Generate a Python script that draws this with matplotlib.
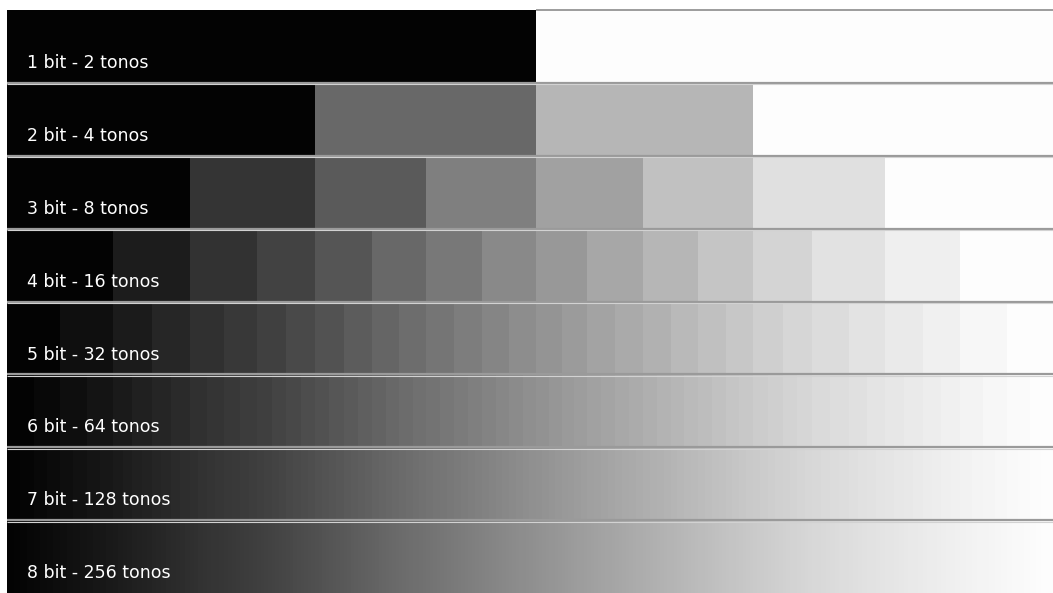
import numpy as np
import matplotlib
matplotlib.use('Agg')
import matplotlib.pyplot as plt

# bit depth per row and its label
bits = [1, 2, 3, 4, 5, 6, 7, 8]
labels = ['1 bit - 2 tonos', '2 bit - 4 tonos', '3 bit - 8 tonos', '4 bit - 16 tonos',
          '5 bit - 32 tonos', '6 bit - 64 tonos', '7 bit - 128 tonos', '8 bit - 256 tonos']

# x position (px) of the 16 tone steps, read from the 4 bit row
step_x = [7, 113, 190, 257, 315, 372, 426, 482, 536, 587, 643, 698, 753, 812, 885, 960, 1053]
# gray value of those 16 tones
step_gray = [3, 28, 50, 66, 85, 104, 120, 137, 152, 167, 182, 197, 212, 226, 239, 253]

W, H = 1053, 593
top = 10
row_h = (H - top) / len(bits)

fig = plt.figure(figsize=(W / 100, H / 100), dpi=100)
ax = fig.add_axes([0, 0, 1, 1])
ax.set_xlim(0, W)
ax.set_ylim(H, 0)
ax.axis('off')

frac16 = np.linspace(0, 1, 17)
tone16 = np.linspace(0, 1, 16)

for i, b in enumerate(bits):
    n = 2 ** b
    # band edges of this row, placed on the same tone scale as the 4 bit row
    edges = np.interp(np.arange(n + 1) / n, frac16, step_x)
    gray = np.interp(np.arange(n) / (n - 1), tone16, step_gray)
    y0 = top + i * row_h
    ax.pcolormesh(edges, [y0, y0 + row_h], gray[None, :], cmap='gray',
                  vmin=0, vmax=255, shading='flat')
    ax.text(27, y0 + 53, labels[i], color='white', fontsize=12.5,
            va='center', ha='left', family='DejaVu Sans')

# top edge line, only seen over the white half
ax.plot([step_x[8], W], [top, top], color='#8c8c8c', lw=1.2, solid_capstyle='butt')

# separators between the rows
for i in range(1, len(bits)):
    y = top + i * row_h
    ax.plot([7, W], [y, y], color='#9a9a9a', lw=1.6, solid_capstyle='butt')
    ax.plot([7, W], [y + 1.6, y + 1.6], color='#d2d2d2', lw=0.8, solid_capstyle='butt')

fig.savefig('out.png', dpi=100, facecolor='white')
